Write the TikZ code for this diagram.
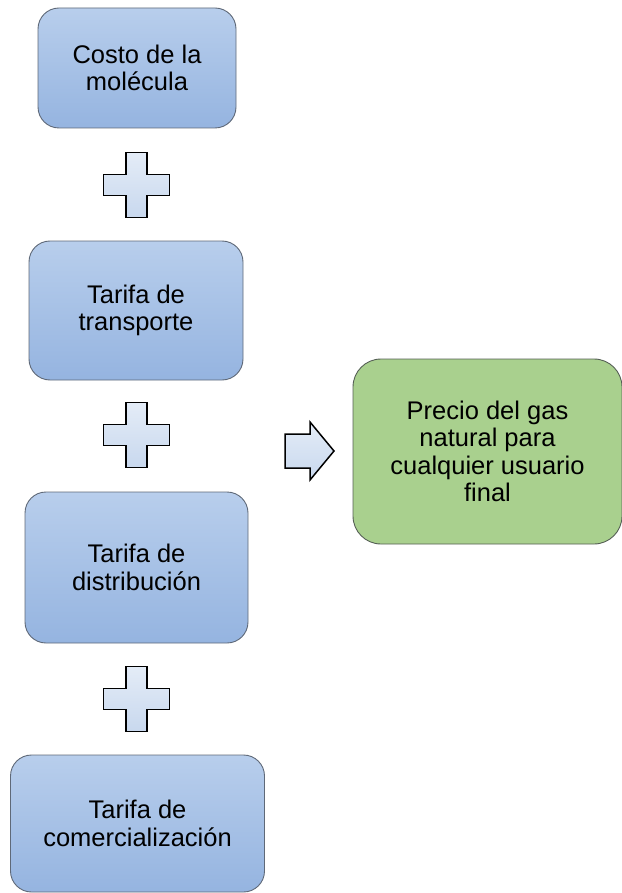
\documentclass[tikz,border=0pt]{standalone}
\usepackage{fontspec}
\setmainfont{Liberation Sans}

\definecolor{azularriba}{RGB}{184,206,236}
\definecolor{azulabajo}{RGB}{149,180,224}
\definecolor{bordecaja}{RGB}{95,105,120}
\definecolor{verdecaja}{RGB}{169,208,142}
\definecolor{bordeverde}{RGB}{85,95,85}
\definecolor{signoarriba}{RGB}{228,236,247}
\definecolor{signoabajo}{RGB}{200,216,238}

\begin{document}
\begin{tikzpicture}[x=1pt, y=-1pt,
  caja/.style={draw=bordecaja, line width=0.9pt, rounded corners=21pt,
    top color=azularriba, bottom color=azulabajo, align=center,
    inner sep=0pt, font=\fontsize{25.5}{27.5}\selectfont},
  resultado/.style={draw=bordeverde, line width=0.9pt, rounded corners=28pt,
    fill=verdecaja, align=center, inner sep=0pt,
    font=\fontsize{25.5}{27.5}\selectfont},
  signo/.style={draw=black, line width=1.5pt, top color=signoarriba,
    bottom color=signoabajo},
  pics/signomas/.style={code={
    \draw[signo] (-10.5,-32.5) -- (10.5,-32.5) -- (10.5,-10.5) -- (33,-10.5)
      -- (33,10.5) -- (10.5,10.5) -- (10.5,32.5) -- (-10.5,32.5)
      -- (-10.5,10.5) -- (-33,10.5) -- (-33,-10.5) -- (-10.5,-10.5) -- cycle;
  }}]
  \useasboundingbox (0,0) rectangle (621,893);

  % Components of the price
  \node[caja, minimum width=198pt, minimum height=120pt] (costo) at (137,68)
    {Costo de la\\mol\'ecula};
  \node[caja, minimum width=214pt, minimum height=139pt] (transporte) at (136,310.5)
    {Tarifa de\\transporte};
  \node[caja, minimum width=223pt, minimum height=151pt] (distribucion) at (136.5,567.5)
    {Tarifa de\\distribuci\'on};
  \node[caja, minimum width=254pt, minimum height=137pt] (comercializacion) at (137.5,823.5)
    {Tarifa de\\comercializaci\'on};

  % Plus signs between the boxes
  \pic at (136.5,185) {signomas};
  \pic at (136.5,435) {signomas};
  \pic at (136.5,699) {signomas};

  % Arrow towards the final price
  \draw[signo] (285,434) -- (310,434) -- (310,422) -- (334,451)
    -- (310,480) -- (310,468) -- (285,468) -- cycle;

  % Final price
  \node[resultado, minimum width=269pt, minimum height=185pt] (precio) at (487.5,451.5)
    {Precio del gas\\natural para\\cualquier usuario\\final};

\end{tikzpicture}
\end{document}
